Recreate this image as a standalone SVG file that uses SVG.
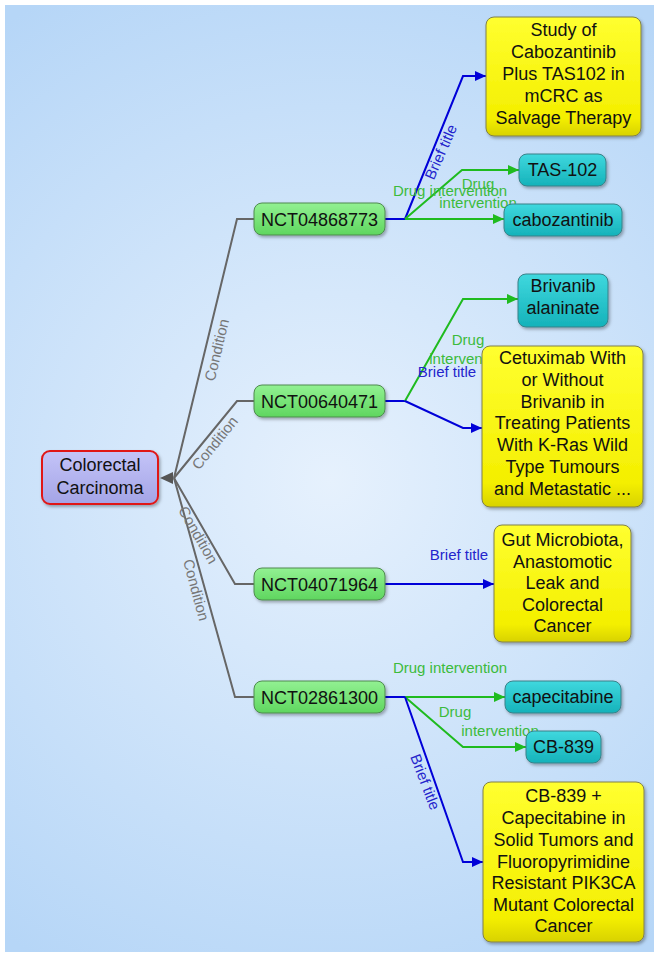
<svg xmlns="http://www.w3.org/2000/svg" width="659" height="957" viewBox="0 0 659 957">
<defs>
<radialGradient id="bg" cx="330" cy="480" r="560" gradientUnits="userSpaceOnUse">
<stop offset="0" stop-color="#e6f1fd"/>
<stop offset="1" stop-color="#b6d6f7"/>
</radialGradient>
<linearGradient id="gGreen" x1="0" y1="0" x2="0" y2="1"><stop offset="0" stop-color="#92f192"/><stop offset="1" stop-color="#5fd65f"/></linearGradient>
<linearGradient id="gCyan" x1="0" y1="0" x2="0" y2="1"><stop offset="0" stop-color="#3fd8de"/><stop offset="1" stop-color="#15b2ba"/></linearGradient>
<linearGradient id="gYellow" x1="0" y1="0" x2="0" y2="1"><stop offset="0" stop-color="#ffff30"/><stop offset="0.85" stop-color="#f4ef00"/><stop offset="1" stop-color="#d8d200"/></linearGradient>
<linearGradient id="gRoot" x1="0" y1="0" x2="0" y2="1"><stop offset="0" stop-color="#c4c4f8"/><stop offset="1" stop-color="#a4a4e6"/></linearGradient>
<filter id="sh" x="-10%" y="-10%" width="130%" height="140%"><feDropShadow dx="1.5" dy="2" stdDeviation="1.5" flood-color="#000" flood-opacity="0.3"/></filter>
<marker id="aB" markerWidth="12" markerHeight="10" refX="11" refY="5" orient="auto" markerUnits="userSpaceOnUse"><path d="M0,0 L11,5 L0,10 z" fill="#0000d8"/></marker>
<marker id="aG" markerWidth="12" markerHeight="10" refX="11" refY="5" orient="auto" markerUnits="userSpaceOnUse"><path d="M0,0 L11,5 L0,10 z" fill="#1fbb1f"/></marker>
</defs>
<style>
.n text{font-family:"Liberation Sans",Arial,sans-serif;font-size:18px;fill:#111;text-anchor:middle}
.n rect{filter:url(#sh)}
.green rect{fill:url(#gGreen);stroke:#4f8a4f;stroke-width:1}
.cyan rect{fill:url(#gCyan);stroke:#3a8088;stroke-width:1}
.yellow rect{fill:url(#gYellow);stroke:#80804a;stroke-width:1}
.root rect{fill:url(#gRoot);stroke:#e01818;stroke-width:2}
.e{fill:none;stroke-width:2}
.cond{stroke:#666}
.blue{stroke:#0000d8}
.grn{stroke:#1fbb1f}
.lbl{font-family:"Liberation Sans",Arial,sans-serif;font-size:15px;text-anchor:middle}
.lc{fill:#777}
.lb{fill:#2424cc}
.lg{fill:#3cbb3c}
</style>
<rect x="0" y="0" width="659" height="957" fill="#fff"/>
<rect x="5" y="5" width="649" height="947" fill="url(#bg)"/>

<g id="connectors">
<polyline class="e cond" points="254,219 237,219 174,478"/>
<polyline class="e cond" points="254,401 237,401 174,478"/>
<polyline class="e cond" points="254,584 235,584 174,478"/>
<polyline class="e cond" points="254,697 235,697 174,478"/>
<path d="M160,478 L173,472 L173,484 z" fill="#555"/>
<text class="lbl lc" transform="translate(217,350) rotate(-76.5)" dy="5">Condition</text>
<text class="lbl lc" transform="translate(215,443) rotate(-51)" dy="5">Condition</text>
<text class="lbl lc" transform="translate(198,535) rotate(60)" dy="5">Condition</text>
<text class="lbl lc" transform="translate(196,590) rotate(75)" dy="5">Condition</text>

<polyline class="e blue" points="385,219 405,219"/>
<polyline class="e blue" points="405,219 463,76 486,76" marker-end="url(#aB)"/>
<polyline class="e grn" points="405,219 462,170 519,170" marker-end="url(#aG)"/>
<polyline class="e grn" points="405,219 504,219" marker-end="url(#aG)"/>
<text class="lbl lb" transform="translate(441,152) rotate(-66)" dy="5">Brief title</text>
<text class="lbl lg" x="450" y="196">Drug intervention</text>
<text class="lbl lg" x="478" y="189">Drug</text>
<text class="lbl lg" x="478" y="208">intervention</text>

<polyline class="e blue" points="385,401 405,401"/>
<polyline class="e grn" points="405,401 463,299 518,299" marker-end="url(#aG)"/>
<polyline class="e blue" points="405,401 463,428 482,428" marker-end="url(#aB)"/>
<text class="lbl lg" x="468" y="345">Drug</text>
<text class="lbl lg" x="468" y="364">intervention</text>
<text class="lbl lb" x="447" y="377">Brief title</text>

<polyline class="e blue" points="385,584 494,584" marker-end="url(#aB)"/>
<text class="lbl lb" x="459" y="560">Brief title</text>

<polyline class="e blue" points="385,697 405,697"/>
<polyline class="e grn" points="405,697 505,697" marker-end="url(#aG)"/>
<polyline class="e grn" points="405,697 463,747 526,747" marker-end="url(#aG)"/>
<polyline class="e blue" points="405,697 463,862 483,862" marker-end="url(#aB)"/>
<text class="lbl lg" x="450" y="673">Drug intervention</text>
<text class="lbl lg" x="455" y="717">Drug</text>
<text class="lbl lg" x="500" y="736">intervention</text>
<text class="lbl lb" transform="translate(425,782) rotate(69)" dy="5">Brief title</text>
</g>

<g id="root" class="n root"><rect x="42" y="451" width="116" height="53" rx="8"/><text x="100" y="471">Colorectal</text><text x="100" y="494">Carcinoma</text></g>

<g id="nct04868773" class="n green"><rect x="254" y="203" width="131" height="32" rx="8"/><text x="319.5" y="225.5">NCT04868773</text></g>
<g id="nct00640471" class="n green"><rect x="254" y="385" width="131" height="32" rx="8"/><text x="319.5" y="407.5">NCT00640471</text></g>
<g id="nct04071964" class="n green"><rect x="254" y="568" width="131" height="32" rx="8"/><text x="319.5" y="590.5">NCT04071964</text></g>
<g id="nct02861300" class="n green"><rect x="254" y="681" width="131" height="32" rx="8"/><text x="319.5" y="703.5">NCT02861300</text></g>

<g id="title1" class="n yellow"><rect x="486" y="17" width="155" height="119" rx="8"/>
<text x="563.5" y="36">Study of</text><text x="563.5" y="58">Cabozantinib</text><text x="563.5" y="80">Plus TAS102 in</text><text x="563.5" y="102">mCRC as</text><text x="563.5" y="124">Salvage Therapy</text></g>
<g id="tas102" class="n cyan"><rect x="519" y="154" width="87" height="32" rx="8"/><text x="562.5" y="176">TAS-102</text></g>
<g id="cabozantinib" class="n cyan"><rect x="504" y="204" width="118" height="32" rx="8"/><text x="563" y="226">cabozantinib</text></g>

<g id="brivanib" class="n cyan"><rect x="518" y="274" width="90" height="53" rx="8"/><text x="563" y="292">Brivanib</text><text x="563" y="314">alaninate</text></g>
<g id="title2" class="n yellow"><rect x="482" y="346" width="161" height="161" rx="8"/>
<text x="562.5" y="364">Cetuximab With</text><text x="562.5" y="386">or Without</text><text x="562.5" y="408">Brivanib in</text><text x="562.5" y="429">Treating Patients</text><text x="562.5" y="451">With K-Ras Wild</text><text x="562.5" y="473">Type Tumours</text><text x="562.5" y="495">and Metastatic ...</text></g>

<g id="title3" class="n yellow"><rect x="494" y="525" width="137" height="117" rx="8"/>
<text x="562.5" y="546">Gut Microbiota,</text><text x="562.5" y="567.5">Anastomotic</text><text x="562.5" y="589">Leak and</text><text x="562.5" y="610.5">Colorectal</text><text x="562.5" y="632">Cancer</text></g>

<g id="capecitabine" class="n cyan"><rect x="505" y="681" width="116" height="32" rx="8"/><text x="563" y="703">capecitabine</text></g>
<g id="cb839" class="n cyan"><rect x="526" y="731" width="75" height="32" rx="8"/><text x="563.5" y="753">CB-839</text></g>
<g id="title4" class="n yellow"><rect x="483" y="782" width="161" height="160" rx="8"/>
<text x="563.5" y="802">CB-839 +</text><text x="563.5" y="824">Capecitabine in</text><text x="563.5" y="846">Solid Tumors and</text><text x="563.5" y="868">Fluoropyrimidine</text><text x="563.5" y="889">Resistant PIK3CA</text><text x="563.5" y="911">Mutant Colorectal</text><text x="563.5" y="932">Cancer</text></g>
</svg>
